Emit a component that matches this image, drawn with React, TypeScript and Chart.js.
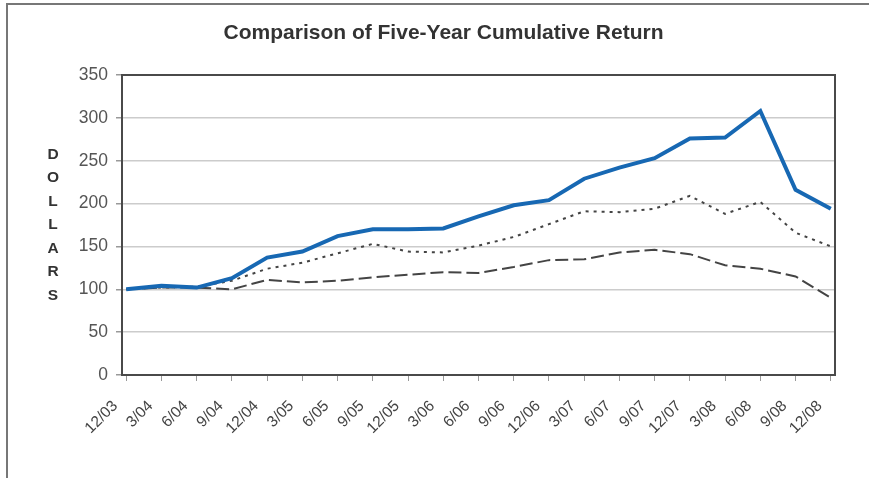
import React, { useEffect, useRef } from "react";
import { Chart, registerables } from "chart.js";

Chart.register(...registerables);

const periods = [
  "12/03", "3/04", "6/04", "9/04", "12/04", "3/05", "6/05", "9/05", "12/05", "3/06",
  "6/06", "9/06", "12/06", "3/07", "6/07", "9/07", "12/07", "3/08", "6/08", "9/08", "12/08",
];
const companyReturn = [100, 104, 102, 113, 137, 144, 162, 170, 170, 171, 185, 198, 204, 229, 242, 253, 276, 277, 308, 216, 194];
const indexDotted = [100, 102, 103, 110, 124, 131, 142, 153, 144, 143, 151, 161, 176, 191, 190, 194, 209, 188, 202, 166, 150];
const indexDashed = [100, 102, 102, 100, 111, 108, 110, 114, 117, 120, 119, 126, 134, 135, 143, 146, 141, 128, 124, 115, 90];
const yTicks = [0, 50, 100, 150, 200, 250, 300, 350];
const chartTitle = "Comparison of Five-Year Cumulative Return";
const yAxisLetters = ["D", "O", "L", "L", "A", "R", "S"];

const FONT = "'Liberation Sans', Arial, Helvetica, sans-serif";

const toPoints = (arr: number[]) => arr.map((v, i) => ({ x: i, y: v }));

const decorPlugin = {
  id: "decor",
  afterDraw(chart: any) {
    const { ctx, chartArea } = chart;
    ctx.save();
    // plot frame
    ctx.strokeStyle = "#4a4a4a";
    ctx.lineWidth = 2;
    ctx.strokeRect(chartArea.left, chartArea.top, chartArea.right - chartArea.left, chartArea.bottom - chartArea.top);
    // title
    ctx.fillStyle = "#333";
    ctx.font = `bold 21px ${FONT}`;
    ctx.textAlign = "center";
    ctx.textBaseline = "middle";
    ctx.fillText(chartTitle, (chartArea.left + chartArea.right) / 2 - 35, 33);
    // vertical axis letters
    ctx.font = `bold 15.5px ${FONT}`;
    const mid = (chartArea.top + chartArea.bottom) / 2;
    const step = 23.5;
    yAxisLetters.forEach((ch, i) => {
      ctx.fillText(ch, 53, mid + (i - (yAxisLetters.length - 1) / 2) * step);
    });
    ctx.restore();
  },
};

export default function App() {
  const ref = useRef<HTMLCanvasElement | null>(null);
  useEffect(() => {
    if (!ref.current) return;
    const chart = new Chart(ref.current, {
      type: "line",
      data: {
        datasets: [
          {
            label: "Company",
            data: toPoints(companyReturn),
            borderColor: "#1768b3",
            borderWidth: 4,
            pointRadius: 0,
            tension: 0,
            order: 0,
          },
          {
            label: "Index A",
            data: toPoints(indexDotted),
            borderColor: "#444",
            borderWidth: 2,
            borderDash: [3, 5],
            pointRadius: 0,
            tension: 0,
            order: 1,
          },
          {
            label: "Index B",
            data: toPoints(indexDashed),
            borderColor: "#444",
            borderWidth: 2,
            borderDash: [13, 5],
            pointRadius: 0,
            tension: 0,
            order: 2,
          },
        ],
      },
      options: {
        animation: false,
        responsive: false,
        maintainAspectRatio: false,
        layout: { padding: { top: 75, right: 34, left: 0, bottom: 0 } },
        plugins: { legend: { display: false }, title: { display: false }, tooltip: { enabled: false } },
        scales: {
          x: {
            type: "linear",
            min: -0.12,
            max: 20.12,
            afterFit: (s: any) => { s.height = 103; },
            border: { display: false },
            grid: { drawOnChartArea: false, drawTicks: true, tickLength: 6, color: "#999" },
            ticks: {
              stepSize: 1,
              includeBounds: false,
              autoSkip: false,
              minRotation: 45,
              maxRotation: 45,
              padding: 16,
              labelOffset: -11,
              color: "#444",
              font: { family: FONT, size: 15.5 },
              callback: (v: any) => periods[Math.round(Number(v))] ?? "",
            },
          },
          y: {
            min: 0,
            max: 350,
            afterFit: (s: any) => { s.width = 122; },
            afterBuildTicks: (s: any) => { s.ticks = yTicks.map((v) => ({ value: v })); },
            border: { display: false },
            grid: { color: "#cccccc", lineWidth: 1.5, tickLength: 6, tickColor: "#999" },
            ticks: {
              padding: 8,
              color: "#555",
              font: { family: FONT, size: 17.5 },
            },
          },
        },
      },
      plugins: [decorPlugin],
    } as any);
    return () => chart.destroy();
  }, []);
  return (
    <div style={{ position: "absolute", left: 0, top: 0, width: 869, height: 478, background: "#fff" }}>
      <div
        style={{
          position: "absolute",
          left: 6,
          top: 3,
          right: 0,
          bottom: 0,
          borderTop: "2px solid #777",
          borderLeft: "2px solid #777",
        }}
      />
      <canvas ref={ref} width={869} height={478} style={{ position: "absolute", left: 0, top: 0 }} />
    </div>
  );
}
